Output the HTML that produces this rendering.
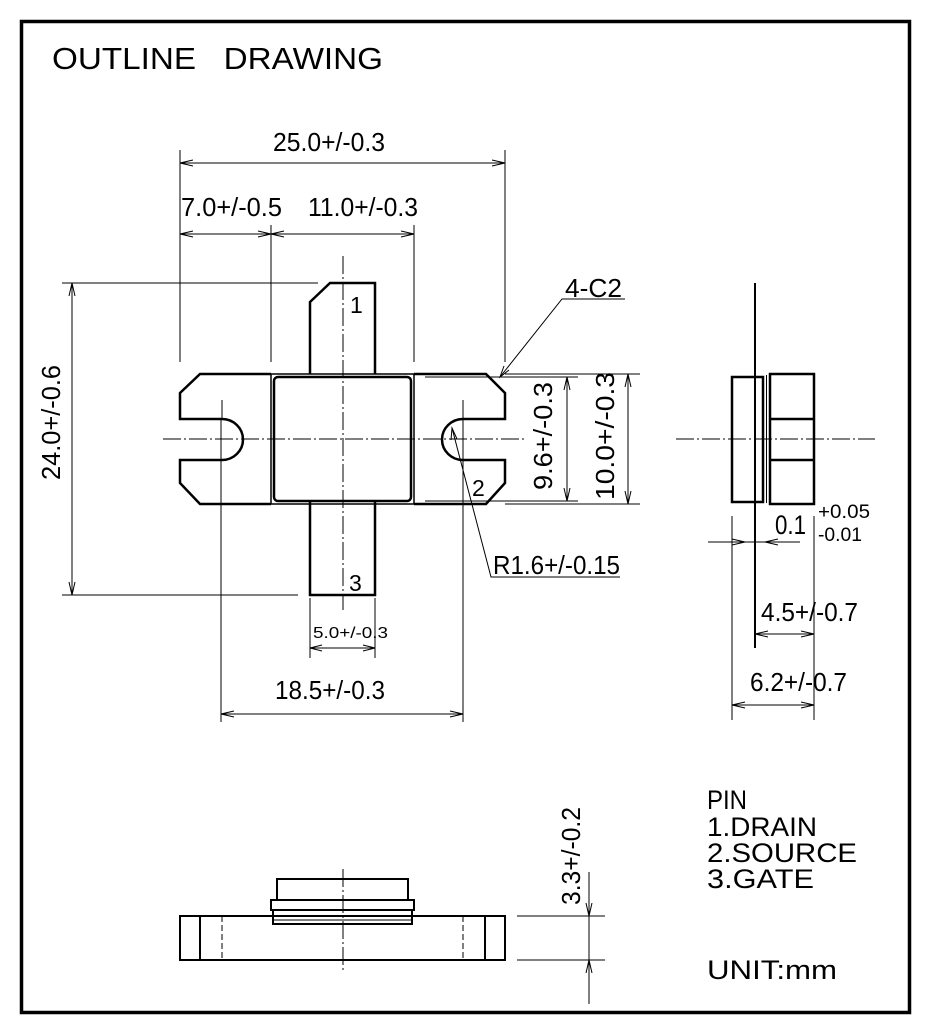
<!DOCTYPE html>
<html><head><meta charset="utf-8"><style>
html,body{margin:0;padding:0;background:#fff;}
svg{display:block;}
text{font-family:"Liberation Sans",Arial,sans-serif;fill:#000;}
</style></head><body>
<svg width="928" height="1030" viewBox="0 0 928 1030" xmlns="http://www.w3.org/2000/svg">
<rect x="21.5" y="21.5" width="888" height="991" fill="none" stroke="#000" stroke-width="3.5"/>
<text x="52" y="69" font-size="31" textLength="331" lengthAdjust="spacingAndGlyphs" xml:space="preserve">OUTLINE&#160;&#160;&#160;DRAWING</text>

<g stroke="#000" stroke-width="1" fill="none">
<line x1="180" y1="150" x2="180" y2="362"/>
<line x1="505" y1="150" x2="505" y2="362"/>
<line x1="271" y1="225" x2="271" y2="362"/>
<line x1="414" y1="225" x2="414" y2="362"/>
<line x1="180" y1="163" x2="505" y2="163"/>
<polyline points="193,160 180,163 193,166"/><polyline points="492,160 505,163 492,166"/>
<line x1="180" y1="234" x2="414" y2="234"/>
<polyline points="193,231 180,234 193,237"/><polyline points="258,231 271,234 258,237"/>
<polyline points="284,231 271,234 284,237"/><polyline points="401,231 414,234 401,237"/>
<line x1="62" y1="283" x2="318" y2="283"/>
<line x1="62" y1="595" x2="298" y2="595"/>
<line x1="72" y1="283" x2="72" y2="595"/>
<polyline points="69,296 72,283 75,296"/><polyline points="69,582 72,595 75,582"/>
<line x1="425" y1="377" x2="578" y2="377"/>
<line x1="425" y1="501" x2="578" y2="501"/>
<line x1="505" y1="374" x2="640" y2="374"/>
<line x1="505" y1="504" x2="640" y2="504"/>
<line x1="567" y1="377" x2="567" y2="501"/>
<polyline points="564,390 567,377 570,390"/><polyline points="564,488 567,501 570,488"/>
<line x1="628" y1="374" x2="628" y2="504"/>
<polyline points="625,387 628,374 631,387"/><polyline points="625,491 628,504 631,491"/>
<polyline points="625,299 562,299 500,377"/>
<polyline points="504,366 500,377 509,370"/>
<polyline points="620,577 491,577 452,428"/>
<polyline points="451,440 452,428 457,439"/>
<line x1="221" y1="420" x2="221" y2="722"/>
<line x1="463" y1="420" x2="463" y2="722"/>
<line x1="221" y1="714" x2="463" y2="714"/>
<polyline points="234,711 221,714 234,717"/><polyline points="450,711 463,714 450,717"/>
<line x1="310" y1="598" x2="310" y2="658"/>
<line x1="375" y1="598" x2="375" y2="658"/>
<line x1="310" y1="648" x2="375" y2="648"/>
<polyline points="322,645 310,648 322,651"/><polyline points="363,645 375,648 363,651"/>
</g>

<g stroke="#000" stroke-width="1" stroke-dasharray="18,3,2,3" fill="none">
<line x1="343" y1="256" x2="343" y2="610"/>
<line x1="163" y1="439" x2="525" y2="439"/>
<line x1="222" y1="400" x2="222" y2="420"/>
<line x1="463" y1="400" x2="463" y2="420"/>
<line x1="676" y1="439" x2="875" y2="439"/>
</g>

<g stroke="#000" stroke-width="2.5" fill="none" stroke-linejoin="miter">
<path d="M310,374 L310,302 L330,283 L375,283 L375,374"/>
<path d="M310,501 L310,595 L375,595 L375,501"/>
<path d="M271,374 L200,374 L180,393 L180,419 L222,419 A21,20.5 0 0 1 222,460 L180,460 L180,483 L200,504 L271,504"/>
<path d="M414,374 L486,374 L505,393 L505,419 L463,419 A21,20.5 0 0 0 463,460 L505,460 L505,483 L486,504 L414,504"/>
<rect x="274" y="377" width="137" height="124" rx="4"/>
</g>
<g stroke="#000" stroke-width="1.5" fill="none">
<line x1="271" y1="374" x2="271" y2="504"/>
<line x1="414" y1="374" x2="414" y2="504"/>
<line x1="271" y1="374" x2="414" y2="374"/>
<line x1="271" y1="504" x2="414" y2="504"/>
</g>

<g stroke="#000" fill="none">
<line x1="755" y1="283" x2="755" y2="648" stroke-width="2"/>
<rect x="732" y="377" width="31" height="125" stroke-width="2.5"/>
<line x1="766.5" y1="375" x2="766.5" y2="503" stroke-width="1"/>
<rect x="770" y="374" width="44" height="130" stroke-width="2.5"/>
<line x1="770" y1="419" x2="814" y2="419" stroke-width="2.5"/>
<line x1="770" y1="460" x2="814" y2="460" stroke-width="2.5"/>
<g stroke-width="1">
<line x1="732" y1="516" x2="732" y2="720"/>
<line x1="814" y1="516" x2="814" y2="720"/>
<line x1="708" y1="542" x2="800" y2="542"/>
<polyline points="732,539 745,542 732,545"/><polyline points="778,539 765,542 778,545"/>
<line x1="755" y1="634" x2="814" y2="634"/>
<polyline points="768,631 755,634 768,637"/><polyline points="801,631 814,634 801,637"/>
<line x1="732" y1="705" x2="814" y2="705"/>
<polyline points="745,702 732,705 745,708"/><polyline points="801,702 814,705 801,708"/>
</g>
</g>

<g stroke="#000" fill="none">
<rect x="180" y="916" width="325" height="44" stroke-width="2"/>
<line x1="200" y1="916" x2="200" y2="960" stroke-width="2"/>
<line x1="485" y1="916" x2="485" y2="960" stroke-width="2"/>
<line x1="222" y1="916" x2="222" y2="960" stroke-width="1" stroke-dasharray="6,3"/>
<line x1="463" y1="916" x2="463" y2="960" stroke-width="1" stroke-dasharray="6,3"/>
<rect x="277" y="879" width="131" height="21" stroke-width="2"/>
<rect x="271" y="900" width="143" height="10" stroke-width="2"/>
<rect x="273" y="910" width="139" height="14" stroke-width="2"/>
<line x1="273" y1="920" x2="412" y2="920" stroke-width="1"/>
<line x1="343" y1="869" x2="343" y2="971" stroke-width="1" stroke-dasharray="18,3,2,3"/>
<g stroke-width="1">
<line x1="517" y1="916" x2="605" y2="916"/>
<line x1="517" y1="960" x2="605" y2="960"/>
<line x1="589" y1="872" x2="589" y2="1004"/>
<polyline points="586,903 589,916 592,903"/><polyline points="586,973 589,960 592,973"/>
</g>
</g>

<text x="273" y="151" font-size="26" textLength="112" lengthAdjust="spacingAndGlyphs">25.0+/-0.3</text>
<text x="181" y="216" font-size="26" textLength="101" lengthAdjust="spacingAndGlyphs">7.0+/-0.5</text>
<text x="308" y="216" font-size="26" textLength="110" lengthAdjust="spacingAndGlyphs">11.0+/-0.3</text>
<text transform="translate(60,480) rotate(-90)" font-size="26" textLength="115" lengthAdjust="spacingAndGlyphs">24.0+/-0.6</text>
<text transform="translate(552,490) rotate(-90)" font-size="26" textLength="108" lengthAdjust="spacingAndGlyphs">9.6+/-0.3</text>
<text transform="translate(614,500) rotate(-90)" font-size="26" textLength="128" lengthAdjust="spacingAndGlyphs">10.0+/-0.3</text>
<text x="565" y="297" font-size="26" textLength="57" lengthAdjust="spacingAndGlyphs">4-C2</text>
<text x="493" y="574" font-size="26" textLength="127" lengthAdjust="spacingAndGlyphs">R1.6+/-0.15</text>
<text x="313" y="638" font-size="16" textLength="75" lengthAdjust="spacingAndGlyphs">5.0+/-0.3</text>
<text x="275" y="699" font-size="26" textLength="110" lengthAdjust="spacingAndGlyphs">18.5+/-0.3</text>
<text x="350" y="313" font-size="23">1</text>
<text x="472" y="496" font-size="23">2</text>
<text x="349" y="591" font-size="23">3</text>
<text x="775" y="534" font-size="27" textLength="31" lengthAdjust="spacingAndGlyphs">0.1</text>
<text x="818" y="518" font-size="19" textLength="52" lengthAdjust="spacingAndGlyphs">+0.05</text>
<text x="818" y="541" font-size="19" textLength="44" lengthAdjust="spacingAndGlyphs">-0.01</text>
<text x="761" y="621" font-size="26" textLength="97" lengthAdjust="spacingAndGlyphs">4.5+/-0.7</text>
<text x="750" y="691" font-size="26" textLength="97" lengthAdjust="spacingAndGlyphs">6.2+/-0.7</text>
<text transform="translate(580,905) rotate(-90)" font-size="26" textLength="98" lengthAdjust="spacingAndGlyphs">3.3+/-0.2</text>
<text x="707" y="809" font-size="27" textLength="40" lengthAdjust="spacingAndGlyphs">PIN</text>
<text x="707" y="836" font-size="27" textLength="110" lengthAdjust="spacingAndGlyphs">1.DRAIN</text>
<text x="707" y="862" font-size="27" textLength="150" lengthAdjust="spacingAndGlyphs">2.SOURCE</text>
<text x="707" y="888" font-size="27" textLength="107" lengthAdjust="spacingAndGlyphs">3.GATE</text>
<text x="707" y="979" font-size="27" textLength="130" lengthAdjust="spacingAndGlyphs">UNIT:mm</text>
</svg>
</body></html>
